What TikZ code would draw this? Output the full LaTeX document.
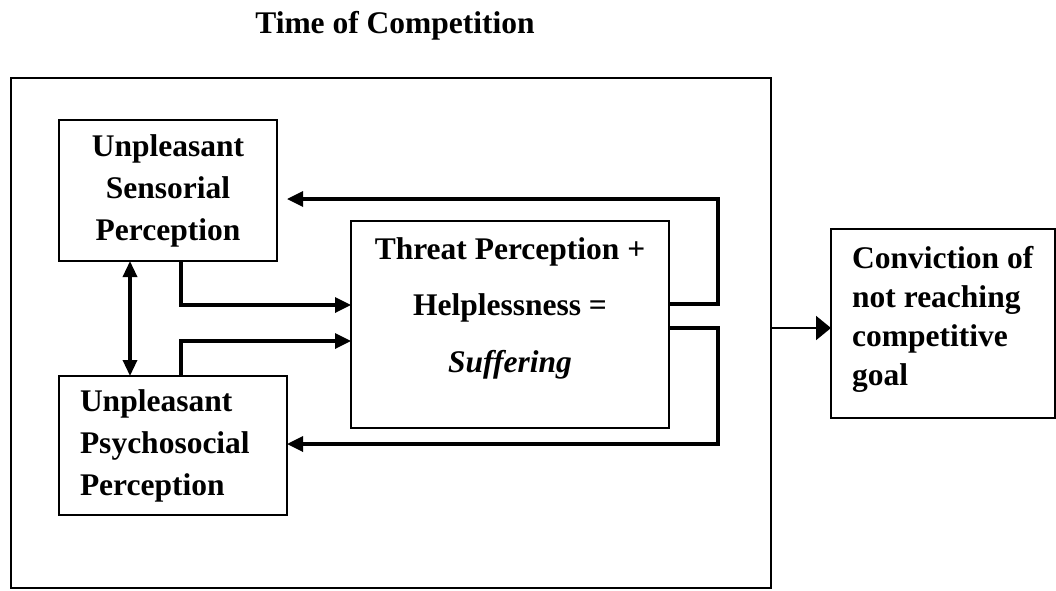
\documentclass[tikz,border=0pt]{standalone}
\usepackage{fontspec}
\setmainfont{Liberation Serif}
\usetikzlibrary{arrows.meta,calc}
\begin{document}
\begin{tikzpicture}[x=1pt,y=-1pt,
  box/.style={draw=black,line width=1.5pt,rectangle,inner sep=0pt,outer sep=0pt,
    font=\fontsize{31.5}{42}\selectfont\bfseries},
  thick arrow/.style={line width=3.3pt,-{Triangle[length=16pt,width=15pt]}},
  both arrow/.style={line width=3.3pt,{Triangle[length=16pt,width=14pt]}-{Triangle[length=16pt,width=14pt]}},
  thin arrow/.style={line width=2pt,-{Triangle[length=15pt,width=24pt]}},
  label/.style={inner sep=0pt,font=\fontsize{31.5}{42}\selectfont\bfseries}]
\useasboundingbox (0,0) rectangle (1056,590);
\node[label,anchor=base] (title) at (395,33) {Time of Competition};
\node[draw=black,line width=2pt,minimum width=760pt,minimum height=510pt,inner sep=0pt,outer sep=0pt] (outer) at (391,333) {};
\node[box,minimum width=218pt,minimum height=141pt,align=center] (usp) at (168,190.5)
  {Unpleasant\\Sensorial\\Perception};
\node[box,minimum width=228pt,minimum height=139pt,text width=186pt,align=left] (upp) at (173,445.5)
  {Unpleasant\\Psychosocial\\Perception};
\node[box,minimum width=318pt,minimum height=207pt] (threat) at (510,324.5) {};
\node[label,align=center,font=\fontsize{31.5}{56.5}\selectfont\bfseries] (threattext) at (510,308)
  {Threat Perception +\\Helplessness =\\\textit{Suffering}};
\node[box,minimum width=224pt,minimum height=189pt] (conv) at (943,323.5) {};
\node[label,align=left,font=\fontsize{31.5}{39}\selectfont\bfseries,anchor=west] (convtext) at (852,319)
  {Conviction of\\not reaching\\competitive\\goal};
% feedback loops
\draw[thick arrow] ([yshift=20.5pt]threat.east) -- ++(49,0) |- ([xshift=10pt,yshift=-8.5pt]usp.east);
\draw[thick arrow] ([yshift=-3.5pt]threat.east) -- ++(49,0) |- ([yshift=1.5pt]upp.east);
% into threat
\draw[thick arrow] ([xshift=13pt]usp.south) |- ([yshift=19.5pt]threat.west);
\draw[thick arrow] ([xshift=8pt]upp.north) |- ([yshift=-16.5pt]threat.west);
% double arrow
\coordinate (dtop) at ([xshift=-38pt]usp.south);
\draw[both arrow] (dtop) -- (dtop |- upp.north);
% to conviction
\coordinate (convin) at ([yshift=-4.5pt]conv.west);
\draw[thin arrow] (outer.east |- convin) -- (convin);
\end{tikzpicture}
\end{document}
